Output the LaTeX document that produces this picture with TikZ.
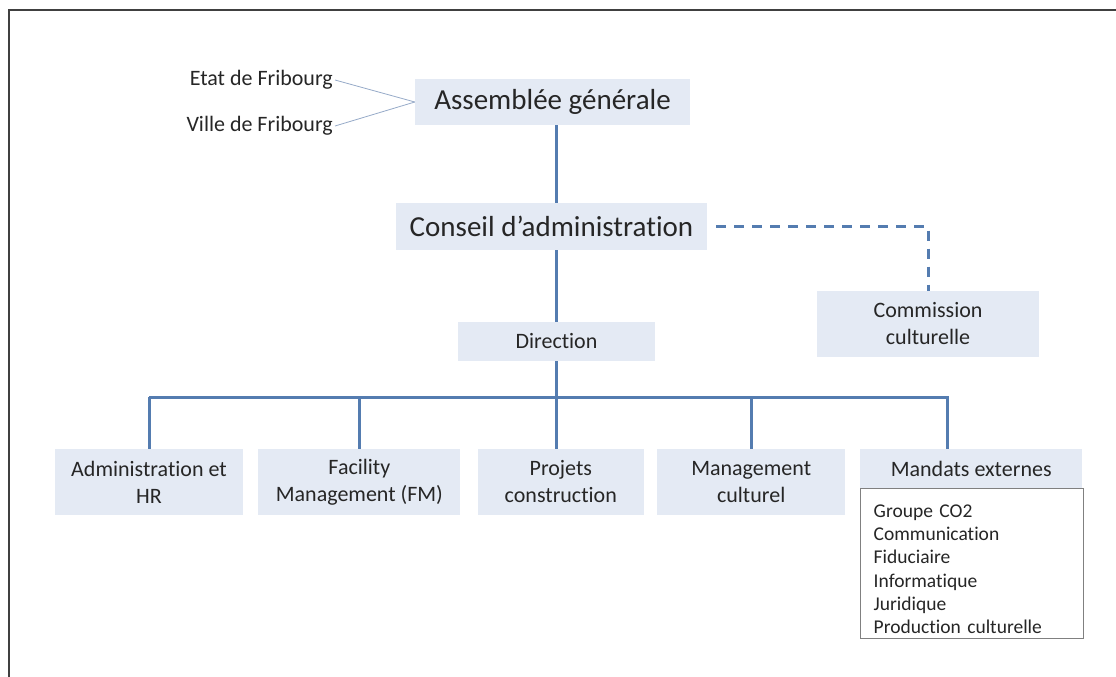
\documentclass[tikz,border=0pt]{standalone}
\usepackage{fontspec}
\setmainfont{Carlito}[Ligatures=NoCommon]
\usepackage{xcolor}
\usetikzlibrary{positioning,calc}

\definecolor{boxfill}{RGB}{228,234,244}
\definecolor{treeblue}{RGB}{84,124,176}
\definecolor{thinblue}{RGB}{150,170,200}
\definecolor{inktext}{RGB}{38,38,38}

\begin{document}
\begin{tikzpicture}[x=1pt, y=-1pt, node distance=15pt,
    bigbox/.style={rectangle, fill=boxfill, text=inktext, inner sep=0pt, align=center, font=\fontsize{29}{34}\selectfont},
    unit/.style={rectangle, fill=boxfill, text=inktext, inner sep=0pt, align=center, minimum height=66pt, font=\fontsize{22}{27}\selectfont},
    owner/.style={text=inktext, inner sep=2pt, anchor=east, font=\fontsize{22}{27}\selectfont},
    listbox/.style={rectangle, draw=black!50, fill=white, text=inktext, inner xsep=14pt, inner ysep=0pt, align=left, text width=195pt, minimum height=150pt, font=\fontsize{19.5}{23.3}\selectfont},
    tree/.style={draw=treeblue, line width=3pt},
    dashline/.style={draw=treeblue, line width=3pt, dash pattern=on 10pt off 8pt},
    feed/.style={draw=thinblue, line width=0.8pt}]

    \useasboundingbox (0,0) rectangle (1116,677);
    \draw[black!75, line width=1.5pt] (9,677) -- (9,10) -- (1116,10);

    % top of the chart
    \node [bigbox, minimum width=275pt, minimum height=46pt] (ag) at (552.5,102) {Assemblée générale};
    \node [bigbox, minimum width=311pt, minimum height=47pt] (ca) at (551.5,226.5) {Conseil d’administration};
    \node [unit, minimum width=222pt] (com) at (928,324) {Commission\\culturelle};
    \node [unit, minimum width=197pt, minimum height=39pt] (dir) at (556.5,341.5) {Direction};

    \node [owner] (etat) at (335,80) {Etat de Fribourg};
    \node [owner] (ville) at (335,126) {Ville de Fribourg};

    % departments
    \node [unit, minimum width=188pt] (admin) at (149,482) {Administration et\\HR};
    \node [unit, minimum width=202pt, right=15pt of admin] (fm) {Facility\\Management (FM)};
    \node [unit, minimum width=166pt, right=17pt of fm] (proj) {Projets\\construction};
    \node [unit, minimum width=188pt, right=13pt of proj] (mc) {Management\\culturel};
    \node [unit, minimum width=222pt, minimum height=39pt, anchor=north west] (mext) at (860,449) {Mandats externes};
    \node [listbox, below=0pt of mext.south, anchor=north] (mlist) {\rule{0pt}{24pt}Groupe CO2\\Communication\\Fiduciaire\\Informatique\\Juridique\\Production culturelle};

    \coordinate (spine) at (556,397);
    \coordinate (bus) at (556,397);
    \coordinate (busend) at (947,397);

    \path [feed] (etat.east) -- (ag.west);
    \path [feed] (ville.east) -- (ag.west);
    \path [tree] (ag.south -| spine) -- (ca.north -| spine);
    \path [tree] (ca.south -| spine) -- (dir.north -| spine);
    \path [tree] (dir.south -| spine) -- (bus);
    \path [dashline] ([xshift=9pt]ca.east) -| (com.north);

    \path [tree] (admin.north |- bus) -- (busend) -- (busend |- mext.north);
    \foreach \d in {admin,fm,mc}
        \path [tree] (\d.north |- bus) -- (\d.north);
    \path [tree] (bus) -- (bus |- proj.north);
\end{tikzpicture}
\end{document}
